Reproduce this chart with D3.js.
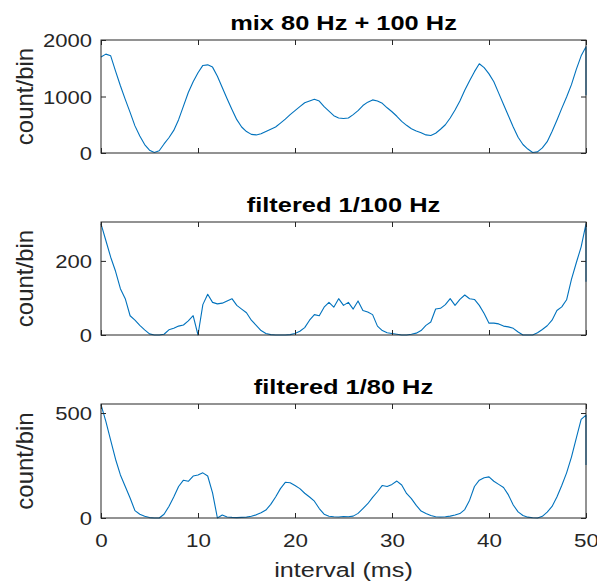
<!DOCTYPE html>
<html>
  <head>
    <meta charset="utf-8">
    <script src="https://cdn.jsdelivr.net/npm/d3@7"></script>
    <style>
      body { margin: 0; background: #fff; }
      svg { font-family: "Liberation Sans", Arial, Helvetica, sans-serif; }
    </style>
  </head>
  <body>
    <svg width="597" height="583"></svg>

    <script type="text/javascript">
      // histogram bins, 0.5 ms apart, 0..50 ms
      var binMs = 0.5;
      var titles = ["mix 80 Hz + 100 Hz", "filtered 1/100 Hz", "filtered 1/80 Hz"];

      var mixCounts = [
        1700, 1750, 1720, 1450, 1190, 950, 720, 480, 300, 150,
        50, 10, 40, 160, 270, 400, 590, 830, 1070, 1260,
        1420, 1550, 1560, 1520, 1360, 1160, 960, 770, 590, 460,
        380, 330, 320, 340, 380, 420, 460, 530, 600, 680,
        750, 820, 890, 920, 950, 920, 820, 740, 660, 620,
        610, 620, 680, 750, 840, 900, 940, 920, 880, 800,
        730, 650, 560, 490, 430, 390, 360, 320, 310, 350,
        420, 500, 620, 760, 920, 1110, 1280, 1440, 1580, 1510,
        1400, 1260, 1060, 860, 660, 460, 280, 150, 70, 10,
        20, 90, 200, 380, 580, 790, 990, 1210, 1480, 1720,
        1880
      ];
      var f100Counts = [
        300, 255, 210, 172, 125, 98, 52, 40, 26, 14,
        3, 0, 0, 2, 14, 18, 24, 27, 38, 52,
        0, 82, 110, 88, 84, 86, 92, 98, 80, 70,
        60, 40, 26, 12, 4, 1, 0, 0, 0, 1,
        4, 10, 20, 40, 55, 52, 75, 88, 75, 98,
        80, 88, 70, 92, 66, 62, 55, 24, 12, 6,
        4, 2, 0, 0, 2, 5, 12, 26, 35, 70,
        72, 82, 98, 80, 96, 108, 98, 96, 80, 58,
        32, 32, 30, 24, 22, 18, 8, 0, 0, 0,
        6, 15, 25, 40, 66, 76, 95, 150, 195, 238,
        300
      ];
      var f80Counts = [
        540, 460, 370, 280, 205, 150, 95, 35, 18, 8,
        2, 0, 0, 18, 55, 100, 150, 180, 175, 200,
        205, 215, 200, 120, 0, 14, 5, 3, 2, 3,
        4, 8, 15, 25, 38, 65, 100, 140, 170, 168,
        155, 140, 118, 100, 80, 45, 18, 8, 6, 5,
        7, 6, 9, 22, 45, 68, 98, 125, 155, 150,
        160, 176, 157, 117, 92, 60, 33, 22, 12, 6,
        5, 6, 9, 14, 21, 40, 85, 150, 180, 192,
        196, 175, 160, 145, 110, 62, 29, 12, 4, 1,
        0, 8, 28, 55, 100, 155, 215, 290, 380, 470,
        490
      ];
      // the last (edge) bin drops at x = 50
      var lastBin = [1020, 144, 252];

      var yMax = [2000, 305, 543];
      var yTicks = [[0, 1000, 2000], [0, 200], [0, 500]];
      var xTicks = [0, 10, 20, 30, 40, 50];

      var series = [mixCounts, f100Counts, f80Counts];

      var svg = d3.select("svg"),
        left = 101,
        right = 586,
        panels = [
          { top: 40, bottom: 153 },
          { top: 222, bottom: 335 },
          { top: 404, bottom: 518 }
        ],
        axisColor = "#262626",
        lineColor = "#0072bd";

      var xScale = d3.scaleLinear().domain([0, 50]).range([left, right]);

      // widen text horizontally around its anchor (the figure's text is stretched)
      function widen(sel, x, y, s) {
        sel.attr("x", 0).attr("y", 0)
          .attr("transform", "translate(" + x + "," + y + ") scale(" + s + ",1)");
      }

      panels.forEach(function (p, i) {
        var yScale = d3.scaleLinear().domain([0, yMax[i]]).range([p.bottom, p.top]);
        var g = svg.append("g");

        // data line
        var pts = series[i].map(function (v, k) { return [k * binMs, v]; });
        pts.push([50, lastBin[i]]);
        var line = d3.line()
          .x(function (d) { return xScale(d[0]); })
          .y(function (d) { return yScale(d[1]); });
        g.append("path")
          .attr("fill", "none")
          .attr("stroke", lineColor)
          .attr("stroke-width", 1.1)
          .attr("stroke-linejoin", "round")
          .attr("d", line(pts));

        // ticks, inward on all four sides
        var ax = [
          { a: d3.axisBottom(xScale).tickValues(xTicks), t: "translate(0," + p.bottom + ")" },
          { a: d3.axisTop(xScale).tickValues(xTicks), t: "translate(0," + p.top + ")" },
          { a: d3.axisLeft(yScale).tickValues(yTicks[i]), t: "translate(" + left + ",0)" },
          { a: d3.axisRight(yScale).tickValues(yTicks[i]), t: "translate(" + right + ",0)" }
        ];
        ax.forEach(function (o, j) {
          var showLabels = (j === 2) || (j === 0 && i === 2);
          o.a.tickSizeInner(-5).tickSizeOuter(0).tickPadding(9)
            .tickFormat(showLabels ? d3.format("d") : "");
          var ag = g.append("g").attr("transform", o.t).call(o.a);
          ag.select(".domain").remove();
          ag.selectAll("line").attr("stroke", axisColor).attr("stroke-width", 1);
          ag.selectAll("text")
            .attr("fill", axisColor)
            .attr("font-size", 19)
            .attr("font-family", null);
          if (j === 2 && showLabels) {
            ag.selectAll("text").each(function () {
              d3.select(this).attr("dy", "0.35em");
              widen(d3.select(this), -9, 0, 1.16);
            });
          }
          if (j === 0 && showLabels) {
            ag.selectAll("text").each(function () {
              d3.select(this).attr("dy", null);
              widen(d3.select(this), 0, 29, 1.18);
            });
          }
        });

        // box
        g.append("rect")
          .attr("x", left).attr("y", p.top)
          .attr("width", right - left).attr("height", p.bottom - p.top)
          .attr("fill", "none")
          .attr("stroke", axisColor)
          .attr("stroke-width", 1);

        // title
        var title = g.append("text")
          .attr("text-anchor", "middle")
          .attr("font-size", 20.5)
          .attr("font-weight", "bold")
          .attr("fill", "#000")
          .text(titles[i]);
        widen(title, (left + right) / 2, p.top - 10, 1.24);

        // y label
        g.append("text")
          .attr("text-anchor", "middle")
          .attr("font-size", 24)
          .attr("fill", axisColor)
          .attr("transform", "translate(33," + (p.top + p.bottom) / 2 + ") rotate(-90)")
          .text("count/bin");
      });

      // x label
      var xl = svg.append("text")
        .attr("text-anchor", "middle")
        .attr("font-size", 21)
        .attr("fill", axisColor)
        .text("interval (ms)");
      widen(xl, (left + right) / 2, 577, 1.2);
    </script>
  </body>
</html>
